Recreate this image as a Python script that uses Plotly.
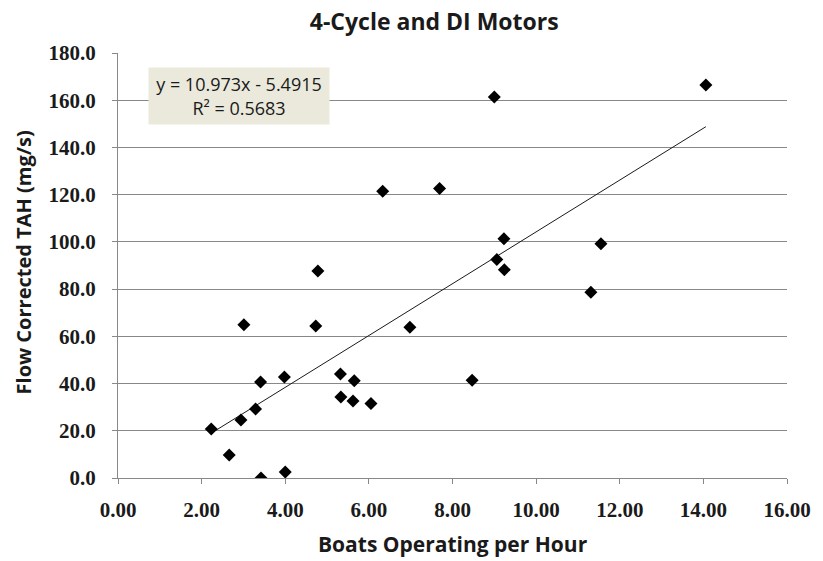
import plotly.graph_objects as go

boats_per_hour = [2.23, 2.66, 2.94, 3.01, 3.29, 3.41, 3.42, 3.98, 4.00, 4.73,
                  4.78, 5.32, 5.33, 5.62, 5.65, 6.05, 6.33, 6.98, 7.69, 8.47,
                  9.00, 9.06, 9.23, 9.24, 11.31, 11.55, 14.06]
flow_tah = [20.8, 9.7, 24.6, 64.9, 29.2, 40.7, 0.0, 42.8, 2.5, 64.4,
            87.7, 44.0, 34.3, 32.6, 41.2, 31.6, 121.4, 63.9, 122.6, 41.4,
            161.4, 92.5, 101.3, 88.2, 78.7, 99.2, 166.5]

slope = 10.973
intercept = -5.4915
r_squared = 0.5683

x_ticks = [0, 2, 4, 6, 8, 10, 12, 14, 16]
y_ticks = [0, 20, 40, 60, 80, 100, 120, 140, 160, 180]

trend_x = [min(boats_per_hour), max(boats_per_hour)]
trend_y = [slope * v + intercept for v in trend_x]

fig = go.Figure()
fig.add_trace(go.Scatter(x=trend_x, y=trend_y, mode="lines",
                         line=dict(color="#1a1a1a", width=1), hoverinfo="skip"))
fig.add_trace(go.Scatter(x=boats_per_hour, y=flow_tah, mode="markers",
                         marker=dict(symbol="diamond", size=10, color="black")))

grid = "#888888"
tickfont = dict(family="Liberation Serif", size=21, color="#1a1a1a", weight="bold")

fig.update_layout(
    width=823, height=561,
    margin=dict(l=118, r=26, t=53, b=83),
    paper_bgcolor="white", plot_bgcolor="white",
    showlegend=False,
    title=dict(text="<b>4-Cycle and DI Motors</b>", x=(439 - 118) / 679, xref="paper",
               y=1 - 22 / 561, yref="container", xanchor="center", yanchor="middle",
               font=dict(family="Open Sans", size=23, color="#1a1a1a")),
    xaxis=dict(range=[0, 16], tickvals=x_ticks, tickformat=".2f",
               showgrid=False, zeroline=False, showline=True, linecolor=grid,
               linewidth=1, ticks="outside", ticklen=5, tickcolor=grid,
               tickfont=tickfont, ticklabelstandoff=8),
    yaxis=dict(range=[0, 180], tickvals=y_ticks, tickformat=".1f",
               showgrid=True, gridcolor=grid, gridwidth=1, zeroline=False,
               showline=True, linecolor=grid, linewidth=1, ticks="outside",
               ticklen=5, tickcolor=grid, tickfont=tickfont, ticklabelstandoff=12),
    annotations=[
        dict(text="y = %.3fx - %.4f<br>R² = %.4f" % (slope, -intercept, r_squared),
             xref="x", yref="y", x=2.89, y=161.8, xanchor="center", yanchor="middle",
             showarrow=False, bgcolor="#ebe9dc", width=176, height=52, borderpad=2,
             font=dict(family="Open Sans", size=18, color="#1a1a1a")),
        dict(text="<b>Boats Operating per Hour</b>", xref="paper", yref="paper",
             x=0.5, y=-(544 - 478) / 425, xanchor="center", yanchor="middle",
             showarrow=False, font=dict(family="Open Sans", size=21, color="#1a1a1a")),
        dict(text="<b>Flow Corrected TAH (mg/s)</b>", xref="paper", yref="paper",
             x=-(118 - 22) / 679, y=(478 - 262) / 425, xanchor="center", yanchor="middle",
             textangle=-90, showarrow=False,
             font=dict(family="Open Sans", size=20, color="#1a1a1a")),
    ],
)

fig.write_html("out.html")
